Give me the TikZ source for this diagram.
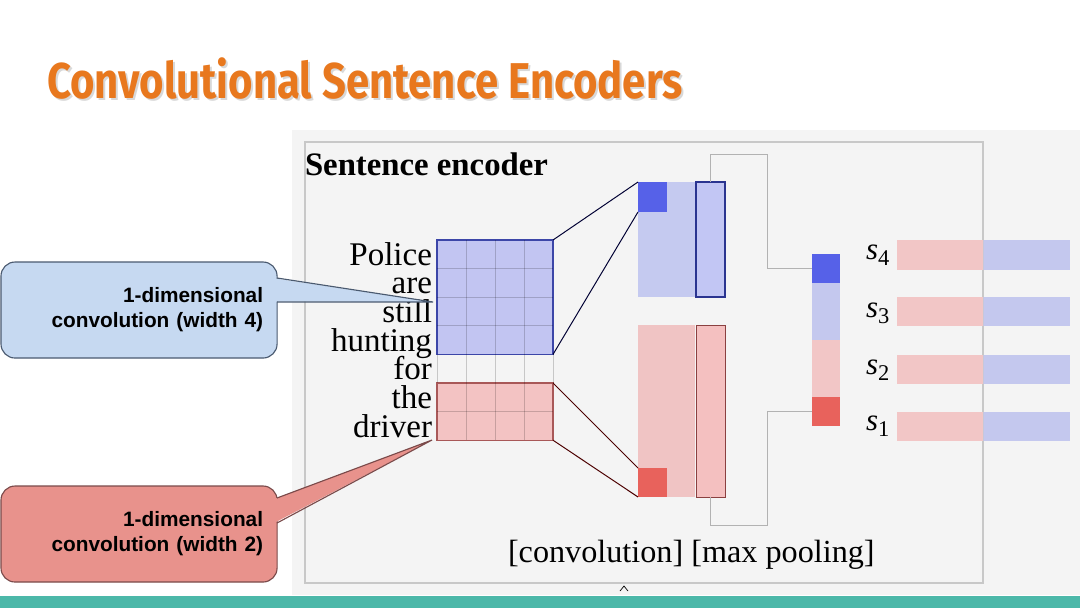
\documentclass[tikz,border=0pt]{standalone}
\usepackage{fontspec}
\setmainfont{Liberation Serif}
\newfontfamily\sansb{Liberation Sans}
\newfontfamily\titlef{Fira Sans}
\usetikzlibrary{calc}
\definecolor{titleor}{HTML}{E8781E}
\definecolor{panelbg}{HTML}{F4F4F4}
\definecolor{panelln}{HTML}{C8C8C8}
\definecolor{teal}{HTML}{4CB8A9}
\definecolor{bfill}{HTML}{C2C5F2}
\definecolor{bbord}{HTML}{3C46A8}
\definecolor{bdark}{HTML}{5661E8}
\definecolor{bmapc}{HTML}{C5CAF0}
\definecolor{boutf}{HTML}{C2C6F4}
\definecolor{boutb}{HTML}{2A3490}
\definecolor{rfill}{HTML}{F3C3C3}
\definecolor{rbord}{HTML}{A85858}
\definecolor{rdark}{HTML}{E8625C}
\definecolor{rmapc}{HTML}{F0C4C4}
\definecolor{routf}{HTML}{F4C0C0}
\definecolor{routb}{HTML}{8A4040}
\definecolor{barr}{HTML}{F2C6C6}
\definecolor{barb}{HTML}{C4C8EE}
\definecolor{cbfill}{HTML}{C6D9F1}
\definecolor{cbline}{HTML}{4A5A70}
\definecolor{crfill}{HTML}{E8928C}
\definecolor{crline}{HTML}{7A4A4A}
\def\pxu{0.025cm}
\newcommand\boxnode[6]{\node[#1, anchor=north west, minimum width={(#4-#2)*\pxu}, minimum height={(#5-#3)*\pxu}] (#6) at (#2,#3) {};}
\tikzset{
  plain/.style={inner sep=0pt, outer sep=0pt},
  gridbox/.style={plain, fill=bfill, draw=bbord, line width=0.8pt},
  redbox/.style={plain, fill=rfill, draw=rbord, line width=0.8pt},
  fillonly/.style={plain, fill=#1},
  outbox/.style={plain, fill=#1},
  gridl/.style={draw=black, opacity=0.18, line width=0.7pt},
  bconn/.style={draw=black!80!blue, line width=0.7pt},
  rconn/.style={draw=black!70!red, line width=0.7pt},
  poolln/.style={draw=black!30, line width=0.7pt},
  word/.style={plain, font=\fontsize{23.5}{24}\selectfont, anchor=base east},
  slab/.style={plain, font=\fontsize{22}{24}\selectfont\itshape, anchor=base west},
  callout/.style={plain, anchor=north west, minimum width=6.9cm, minimum height=2.4cm,
     text width=6.2cm, inner xsep=0.35cm, align=right, rounded corners=10pt, line width=0.8pt,
     font=\sansb\bfseries\fontsize{14.8}{17.8}\selectfont},
}
\begin{document}
\begin{tikzpicture}[x=0.025cm,y=-0.025cm]
\useasboundingbox (0,0) rectangle (1080,608);
\fill[white] (0,0) rectangle (1080,608);
% title
\node[plain, anchor=base west, text=black!25, opacity=0.6] (titlesh) at (49,100) {\resizebox{452pt}{29pt}{\titlef\bfseries Convolutional Sentence Encoders}};
\node[plain, anchor=base west, text=titleor] (title) at (47,98) {\resizebox{452pt}{29pt}{\titlef\bfseries Convolutional Sentence Encoders}};
% panel
\fill[panelbg] (292,130) rectangle (1080,595);
\draw[panelln, line width=0.8pt] (305,142) rectangle (983,583);
\fill[teal] (0,596) rectangle (1080,608);
% heading
\node[plain, anchor=base west, font=\bfseries\fontsize{23.3}{24}\selectfont] (head) at (305,175) {Sentence encoder};
% words
\node[word] (w1) at (432,265) {Police};
\node[word] (w2) at (432,293.7) {are};
\node[word] (w3) at (432,322.4) {still};
\node[word] (w4) at (432,351) {hunting};
\node[word] (w5) at (432,379.8) {for};
\node[word] (w6) at (432,408.5) {the};
\node[word] (w7) at (432,437) {driver};
% input grids
\boxnode{gridbox}{437}{240}{553}{354.4}{bgrid}
\boxnode{redbox}{437}{383}{553}{440.2}{rgrid}
\foreach \x in {466,495,524} \draw[gridl] (\x,240) -- (\x,440.2);
\foreach \y in {268.6,297.2,325.8,411.6} \draw[gridl] (437,\y) -- (553,\y);
\draw[gridl] (437,354.4) -- (437,383);
\draw[gridl] (553,354.4) -- (553,383);
% feature maps
\boxnode{fillonly=bmapc}{638}{182}{695}{297}{bmap}
\boxnode{fillonly=bdark}{638}{182}{667}{212}{bsq}
\boxnode{plain, fill=boutf, draw=boutb, line width=0.8pt}{696}{182}{725}{297}{bout}
\boxnode{fillonly=rmapc}{638}{325}{695}{497}{rmap}
\boxnode{fillonly=rdark}{638}{468}{667}{497}{rsq}
\boxnode{plain, fill=routf, draw=routb, line width=0.7pt}{696}{325}{725}{497}{rout}
% conv connectors
\draw[bconn] (bgrid.north east) -- (bsq.north west);
\draw[bconn] (bgrid.south east) -- (bsq.south west);
\draw[rconn] (rgrid.north east) -- (rsq.north west);
\draw[rconn] (rgrid.south east) -- (rsq.south west);
% pooled vector
\boxnode{fillonly=bdark}{812}{254}{840}{283}{pdb}
\boxnode{fillonly=barb}{812}{283}{840}{340}{plb}
\boxnode{fillonly=barr}{812}{340}{840}{397}{plr}
\boxnode{fillonly=rdark}{812}{397}{840}{426}{pdr}
% pooling connectors
\coordinate (ptop) at (767,154);
\coordinate (pbot) at (767,525);
\draw[poolln] (bout.north) |- (ptop) |- (pdb.west);
\draw[poolln] (rout.south) |- (pbot) |- (pdr.west);
% sentence vectors
\foreach \n/\ya/\yb/\bl in {4/240/270/259, 3/297/326/317, 2/355/384/374, 1/412/441/430}{
  \boxnode{fillonly=barr}{897}{\ya}{983}{\yb}{sr\n}
  \boxnode{fillonly=barb}{983}{\ya}{1070}{\yb}{sb\n}
  \node[slab] (s\n) at (866,\bl) {s\raisebox{-4.3pt}{\upshape\fontsize{16}{16}\selectfont\n}};
}
\draw[panelln, line width=0.6pt, opacity=0.5] (983,240) -- (983,441);
% bottom labels
\node[plain, anchor=base west, font=\fontsize{22.9}{24}\selectfont] (lab) at (508,562) {[convolution] [max pooling]};
\draw[black, line width=0.5pt] (620,591) -- (624,586) -- (628,591);
% callouts
\node[callout, fill=cbfill, draw=cbline] (cb) at (1,262) {1-dimensional\\convolution (width 4)};
\coordinate (tipb) at (433,302);
\fill[cbfill] (275,278.5) -- (tipb) -- (275,301.5) -- cycle;
\draw[cbline, line width=0.8pt] (277,278) -- (tipb) -- (277,302);
\node[callout, fill=crfill, draw=crline] (cr) at (1,486) {1-dimensional\\convolution (width 2)};
\coordinate (tipr) at (432,440);
\fill[crfill] (275,498.5) -- (tipr) -- (275,522.5) -- cycle;
\draw[crline, line width=0.8pt] (277,498) -- (tipr) -- (277,523);
\end{tikzpicture}
\end{document}
